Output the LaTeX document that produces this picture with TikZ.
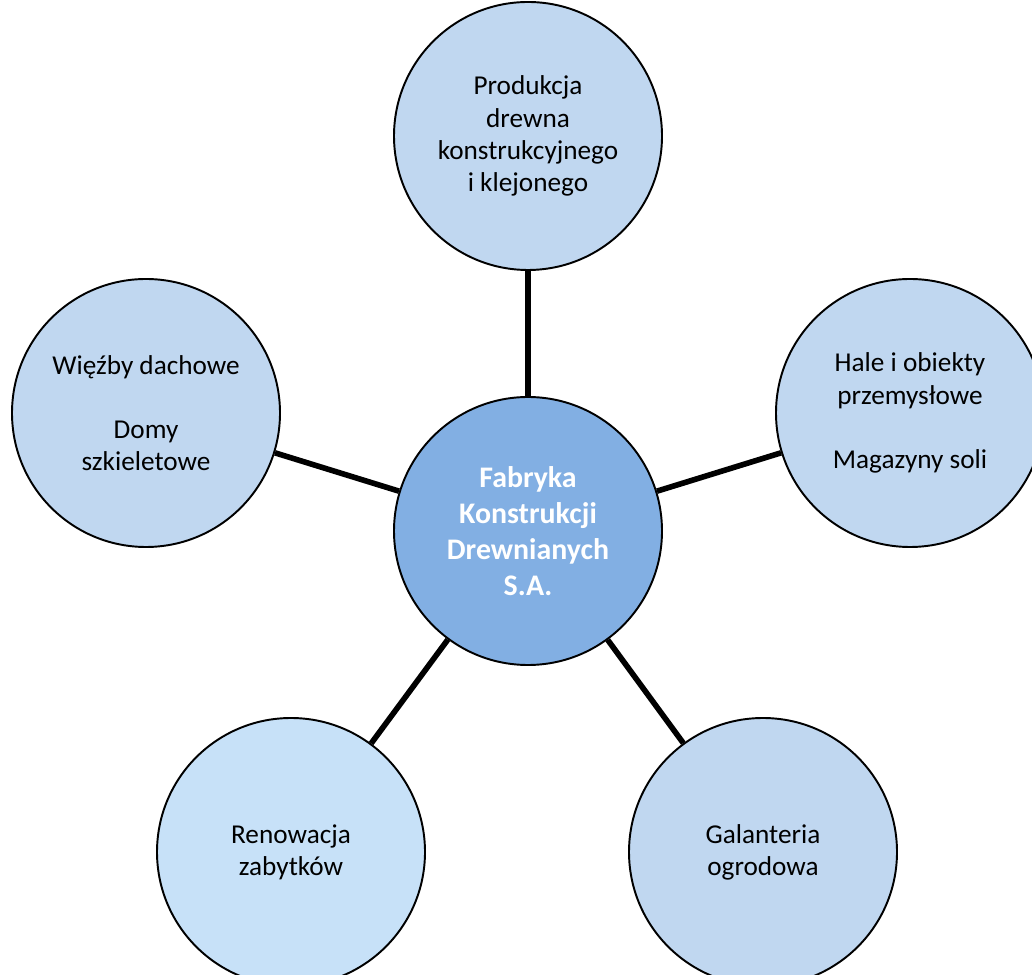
\documentclass[tikz,border=0pt]{standalone}
\usepackage{fontspec}
\setmainfont{Carlito}
\usetikzlibrary{positioning}
\definecolor{leafblue}{RGB}{192,215,240}
\definecolor{paleblue}{RGB}{199,225,248}
\definecolor{hubblue}{RGB}{130,175,227}
\providecommand*{\pgfmathsetnewmacro}[2]{%
    \newcommand*{#1}{}% Error if already defined
    \pgfmathsetmacro{#1}{#2}%
}

\begin{document}
\begin{tikzpicture}[%
        scale = 1,
        draw = black,
        leaf/.style = {circle, draw, line width = 1.1pt, fill = leafblue,
            minimum size = 5.36cm, inner sep = 0pt, align = center,
            font = \fontsize{15.5}{18.3}\selectfont},
        hub/.style = {leaf, fill = hubblue, text = white,
            font = \fontsize{17}{20.5}\selectfont\bfseries},
        spoke/.style = {line width = 3.2pt},
        ]

\useasboundingbox[clip] (0,0) rectangle (20.64,19.48);

\pgfmathsetnewmacro{\midx}{10.56}
\pgfmathsetnewmacro{\sidey}{11.22}
\pgfmathsetnewmacro{\lowy}{2.44}

\node (hub) [hub] at (\midx,8.86)
    {Fabryka\\Konstrukcji\\Drewnianych\\S.A.};

\node (top) [leaf] at (\midx,16.76)
    {Produkcja\\drewna\\konstrukcyjnego\\i klejonego};
\node (left) [leaf] at (2.92,\sidey)
    {Więźby dachowe\\~\\Domy\\szkieletowe};
\node (right) [leaf] at (18.2,\sidey)
    {Hale i obiekty\\przemysłowe\\~\\Magazyny soli};
\node (lowleft) [leaf, fill = paleblue] at (5.82,\lowy)
    {Renowacja\\zabytków};
\node (lowright) [leaf] at (15.26,\lowy)
    {Galanteria\\ogrodowa};

% spokes from the hub
\foreach \NAME in {top,left,right,lowleft,lowright}{%
    \draw[spoke] (hub) -- (\NAME);
    }

\end{tikzpicture}
\end{document}
